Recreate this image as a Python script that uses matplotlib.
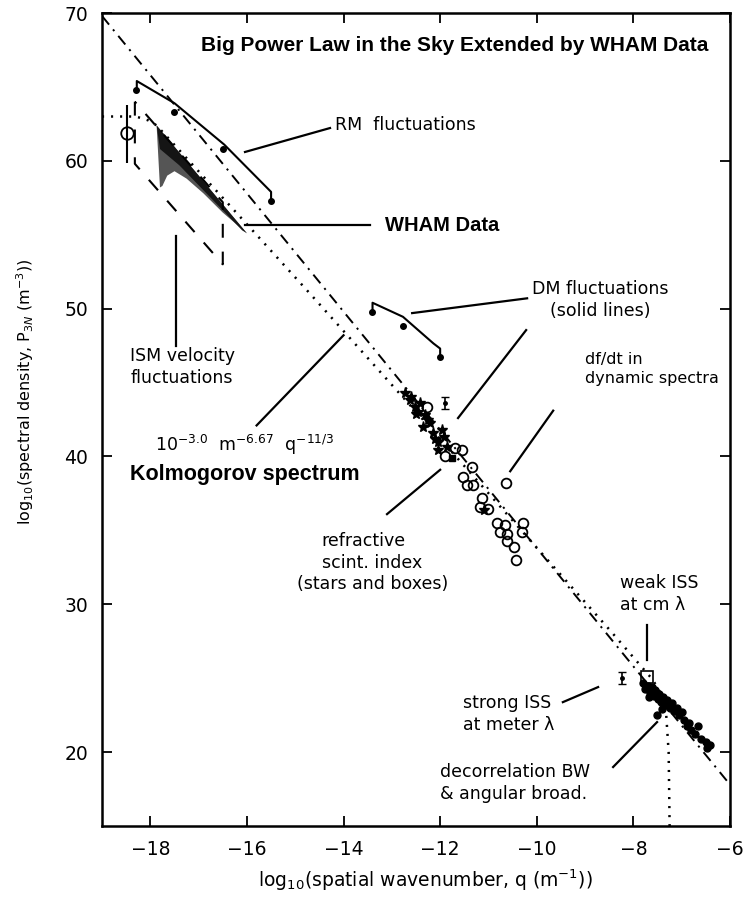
import numpy as np
import matplotlib
matplotlib.use("Agg")
from matplotlib import pyplot as plt

plt.rcParams["lines.scale_dashes"] = False

# ---- data (log10 q, log10 P) ----
# reference model lines
dashdot_q = [-19.0, -6.0]
dashdot_p = [69.8, 17.8]
kolmo_q = [-19.0, -18.3, -18.05, -17.87, -15.83, -14.69, -12.0, -10.4, -8.5, -7.6, -7.42, -7.32, -7.27, -7.25]
kolmo_p = [63.0, 63.0, 62.75, 62.4, 55.1, 51.0, 41.2, 35.3, 28.3, 24.9, 23.9, 22.5, 20.0, 15.0]

# ISM velocity box (dashed parallelogram)
ism_q = [-18.32, -18.32, -16.5, -16.5, -18.32]
ism_p = [64.0, 59.8, 53.0, 57.2, 64.0]

# WHAM shaded region
wham_q = [-17.87, -16.0, -16.5, -16.9, -17.25, -17.5, -17.65, -17.75, -17.8]
wham_p = [62.4, 55.1, 56.5, 57.8, 58.8, 59.3, 59.0, 58.3, 58.2]
wham_dark_q = [-17.87, -16.0, -16.1, -17.4, -17.8]
wham_dark_p = [62.4, 55.1, 55.3, 59.7, 60.8]

# RM fluctuations
rm_q = [-18.30, -17.51, -16.49, -15.50]
rm_p = [64.8, 63.3, 60.8, 57.3]
rm_line_q = [-18.28, -18.28, -17.5, -16.47, -15.5, -15.5]
rm_line_p = [64.9, 65.4, 63.9, 61.1, 57.9, 57.3]

# DM fluctuations
dm_q = [-13.42, -12.76, -12.0]
dm_p = [49.8, 48.8, 46.75]
dm_line_q = [-13.4, -13.4, -12.77, -12.14, -12.0, -12.0]
dm_line_p = [49.8, 50.4, 49.45, 47.65, 47.3, 46.75]

# refractive scintillation index (stars / boxes)
star_q = [-12.73, -12.62, -12.52, -12.42, -12.49, -12.31, -12.21, -12.35, -12.14, -12.04,
          -11.93, -11.86, -12.04, -11.97, -12.60, -12.45, -12.25, -12.10, -11.10]
star_p = [44.27, 43.82, 43.37, 43.60, 42.90, 42.80, 42.24, 42.00, 41.56, 40.99,
          41.33, 40.66, 40.43, 41.79, 44.00, 43.00, 42.50, 41.20, 36.37]
box_q = [-11.76]
box_p = [39.87]

# open circles
circ_q = [-12.28, -11.55, -11.35, -11.45, -11.31, -11.52, -11.14, -11.17, -11.00, -10.83,
          -10.76, -10.62, -10.66, -10.28, -10.31, -10.48, -10.42, -10.62, -11.90, -11.70]
circ_p = [43.37, 40.43, 39.30, 38.06, 38.06, 38.62, 37.20, 36.60, 36.48, 35.47,
          34.90, 34.78, 35.36, 35.47, 34.90, 33.90, 33.00, 34.30, 40.00, 40.60]

# df/dt point
dfdt_q = [-10.63]
dfdt_p = [38.2]

# small error bar points
eb_q = [-11.9, -8.24]
eb_p = [43.6, 25.0]

# ISS cluster
iss_q = [-7.80, -7.75, -7.70, -7.65, -7.62, -7.58, -7.55, -7.50, -7.47, -7.42, -7.38,
         -7.33, -7.30, -7.25, -7.20, -7.15, -7.10, -7.05, -7.00, -6.95, -6.90, -6.85,
         -6.80, -6.72, -6.66, -6.60, -6.50, -6.47, -6.42, -7.68, -7.40, -7.52]
iss_p = [24.7, 24.3, 24.5, 24.0, 24.4, 23.8, 24.2, 23.6, 23.9, 23.4, 23.7,
         23.2, 23.5, 23.0, 23.3, 22.8, 23.0, 22.5, 22.7, 22.2, 21.8, 22.0,
         21.5, 21.2, 21.8, 20.9, 20.7, 20.3, 20.5, 23.7, 22.9, 22.5]
weak_q = [-7.72]
weak_p = [25.1]

# ISM velocity point with error bar
ism_pt_q = [-18.49]
ism_pt_p = [61.86]

xticks = [-18, -16, -14, -12, -10, -8, -6]
yticks = [20, 30, 40, 50, 60, 70]

fig = plt.figure(figsize=(7.43, 9.18), dpi=100)
ax = fig.add_axes([0.1373, 0.1002, 0.8452, 0.8856])
ax.set_xlim(-19, -6)
ax.set_ylim(15, 70)

lw = 1.5
ax.plot(dashdot_q, dashdot_p, color="k", lw=1.4, dashes=(8, 4.5, 1.5, 4.5))
ax.plot(kolmo_q, kolmo_p, color="k", lw=1.8, dashes=(1.5, 5))
ax.plot(ism_q, ism_p, color="k", lw=lw, dashes=(10, 10))

ax.fill(wham_q, wham_p, color="#555555", lw=0)
ax.fill(wham_dark_q, wham_dark_p, color="#151515", lw=0)

ax.plot(rm_line_q, rm_line_p, color="k", lw=lw)
ax.plot(rm_q, rm_p, "o", color="k", ms=4)
ax.plot(dm_line_q, dm_line_p, color="k", lw=lw)
ax.plot(dm_q, dm_p, "o", color="k", ms=4)

ax.plot(star_q, star_p, "*", color="k", ms=8)
ax.plot(box_q, box_p, "s", color="k", ms=5)
ax.plot(circ_q, circ_p, "o", mfc="none", mec="k", mew=1.3, ms=7)
ax.plot(dfdt_q, dfdt_p, "o", mfc="none", mec="k", mew=1.3, ms=7)
ax.errorbar(eb_q, eb_p, yerr=0.4, fmt="o", color="k", ms=2.5, capsize=3, elinewidth=1.2)
ax.plot(iss_q, iss_p, "o", color="k", ms=5)
ax.plot(weak_q, weak_p, "s", mfc="none", mec="k", mew=1.2, ms=9)
ax.errorbar(ism_pt_q, ism_pt_p, yerr=[[2.0], [1.9]], fmt="o", mfc="none", mec="k",
            color="k", ms=9, mew=1.3, elinewidth=1.5, capsize=0)

# annotation leader lines
leaders = [
    ([-16.04, -14.28], [60.6, 62.22]),
    ([-16.04, -13.45], [55.66, 55.66]),
    ([-17.47, -17.47], [54.9, 47.5]),
    ([-15.8, -14.0], [42.1, 48.2]),
    ([-12.58, -10.2], [49.7, 50.7]),
    ([-10.22, -11.63], [48.55, 42.6]),
    ([-9.66, -10.55], [43.1, 39.0]),
    ([-13.1, -12.0], [36.1, 39.1]),
    ([-7.72, -7.72], [28.6, 26.2]),
    ([-9.46, -8.73], [23.38, 24.4]),
    ([-8.42, -7.51], [18.99, 22.03]),
]
for lq, lp in leaders:
    ax.plot(lq, lp, color="k", lw=1.6)

tfs = 12.5
ls = 1.25
ax.text(-11.69, 67.83, "Big Power Law in the Sky Extended by WHAM Data", family="Liberation Sans",
        weight="bold", fontsize=15, ha="center", va="center")
ax.text(-14.18, 62.42, "RM  fluctuations", fontsize=tfs, va="center")
ax.text(-13.14, 55.66, "WHAM Data", family="Liberation Sans", weight="bold", fontsize=14.5, va="center")
ax.text(-17.34, 46.05, "ISM velocity\nfluctuations", fontsize=tfs, ha="center", va="center",
        linespacing=ls)
ax.text(-17.9, 40.8, r"$\mathregular{10^{-3.0}\ \ m^{-6.67}\ \ q^{-11/3}}$", fontsize=tfs, va="center")
ax.text(-18.42, 38.8, "Kolmogorov spectrum", family="Liberation Sans", weight="bold", fontsize=15.5,
        va="center")
ax.text(-8.69, 50.58, "DM fluctuations\n(solid lines)", fontsize=tfs, ha="center", va="center",
        linespacing=ls)
ax.text(-9.0, 45.9, "df/dt in\ndynamic spectra", fontsize=11.5, ha="left", va="center",
        linespacing=1.35)
ax.text(-14.45, 34.28, "refractive", fontsize=tfs, va="center")
ax.text(-14.45, 32.79, "scint. index", fontsize=tfs, va="center")
ax.text(-14.96, 31.37, "(stars and boxes)", fontsize=tfs, va="center")
ax.text(-8.28, 30.68, "weak ISS\nat cm λ", fontsize=tfs, va="center", linespacing=ls)
ax.text(-11.53, 22.57, "strong ISS\nat meter λ", fontsize=tfs, va="center", linespacing=ls)
ax.text(-12.0, 17.9, "decorrelation BW\n& angular broad.", fontsize=tfs, va="center", linespacing=ls)

ax.set_xticks(xticks)
ax.set_yticks(yticks)
ax.set_xticklabels(["\u2212%d" % abs(t) for t in xticks], fontsize=13.5)
ax.set_yticklabels([str(t) for t in yticks], fontsize=13.5)
ax.tick_params(direction="in", length=7, width=1.3, top=True, right=True, pad=10)
for s in ax.spines.values():
    s.set_linewidth(1.8)

fig.text(425 / 743, 1 - 880 / 918, r"log$_{10}$(spatial wavenumber, q (m$^{-1}$))",
         fontsize=13.5, ha="center", va="center")
fig.text(25 / 743, 1 - 392 / 918, r"log$_{10}$(spectral density, P$_{3N}$ (m$^{-3}$))",
         fontsize=11.5, ha="center", va="center", rotation=90)

fig.savefig("out.png", dpi=100)
